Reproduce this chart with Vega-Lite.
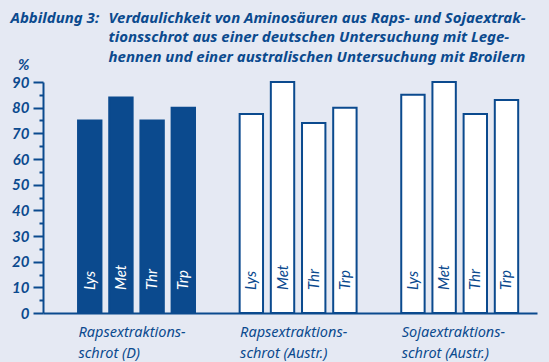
{
  "$schema": "https://vega.github.io/schema/vega-lite/v6.json",
  "width": 494,
  "height": 231,
  "autosize": {"type": "none"},
  "padding": {"left": 43, "top": 82, "right": 12, "bottom": 49},
  "background": "#e5e9f3",
  "config": {"view": {"stroke": null}, "font": "Noto Sans"},
  "data": {
    "values": [
      {"Futtermittel": "Rapsextraktions-\nschrot (D)", "Aminosäure": "Lys", "Verdaulichkeit": 75},
      {"Futtermittel": "Rapsextraktions-\nschrot (D)", "Aminosäure": "Met", "Verdaulichkeit": 84},
      {"Futtermittel": "Rapsextraktions-\nschrot (D)", "Aminosäure": "Thr", "Verdaulichkeit": 75},
      {"Futtermittel": "Rapsextraktions-\nschrot (D)", "Aminosäure": "Trp", "Verdaulichkeit": 80},
      {"Futtermittel": "Rapsextraktions-\nschrot (Austr.)", "Aminosäure": "Lys", "Verdaulichkeit": 77.5},
      {"Futtermittel": "Rapsextraktions-\nschrot (Austr.)", "Aminosäure": "Met", "Verdaulichkeit": 90},
      {"Futtermittel": "Rapsextraktions-\nschrot (Austr.)", "Aminosäure": "Thr", "Verdaulichkeit": 74},
      {"Futtermittel": "Rapsextraktions-\nschrot (Austr.)", "Aminosäure": "Trp", "Verdaulichkeit": 80},
      {"Futtermittel": "Sojaextraktions-\nschrot (Austr.)", "Aminosäure": "Lys", "Verdaulichkeit": 85},
      {"Futtermittel": "Sojaextraktions-\nschrot (Austr.)", "Aminosäure": "Met", "Verdaulichkeit": 90},
      {"Futtermittel": "Sojaextraktions-\nschrot (Austr.)", "Aminosäure": "Thr", "Verdaulichkeit": 77.5},
      {"Futtermittel": "Sojaextraktions-\nschrot (Austr.)", "Aminosäure": "Trp", "Verdaulichkeit": 83}
    ]
  },
  "layer": [
    {
      "mark": {"type": "bar", "stroke": "#0b4a8e", "strokeWidth": 2},
      "encoding": {
        "x": {
          "field": "Futtermittel", "type": "nominal", "sort": null,
          "scale": {"paddingInner": 0.257, "paddingOuter": 0.157, "align": 0.66},
          "axis": {
            "orient": "bottom", "title": null, "domainColor": "#0b4a8e", "domainWidth": 2,
            "ticks": false, "tickSize": 0, "labelAngle": 0, "labelAlign": "left", "labelBaseline": "alphabetic",
            "labelOffset": -58, "labelPadding": 23, "labelExpr": "split(datum.label, '\\n')",
            "labelFont": "Noto Sans", "labelFontStyle": "italic", "labelFontSize": 14.5, "labelLineHeight": 21,
            "labelColor": "#0b4a8e", "labelOverlap": false, "labelLimit": 300
          }
        },
        "xOffset": {"field": "Aminosäure", "type": "nominal", "sort": null, "scale": {"paddingInner": 0.25, "paddingOuter": 0.05}},
        "y": {
          "field": "Verdaulichkeit", "type": "quantitative",
          "scale": {"domain": [0, 90], "nice": false},
          "axis": {
            "orient": "left", "grid": false,
            "values": [0, 5, 10, 15, 20, 25, 30, 35, 40, 45, 50, 55, 60, 65, 70, 75, 80, 85, 90],
            "domainColor": "#0b4a8e", "domainWidth": 2, "tickColor": "#0b4a8e", "tickWidth": 2,
            "tickSize": {"condition": {"test": "datum.value % 10 === 0", "value": 10}, "value": 4},
            "labelExpr": "datum.value % 10 === 0 ? datum.label : ''",
            "labelFont": "Lato", "labelFontStyle": "italic", "labelFontWeight": "bold", "labelFontSize": 15,
            "labelColor": "#0b4a8e", "labelPadding": 4, "labelOverlap": false,
            "title": "%", "titleAngle": 0, "titleX": -14, "titleY": -13, "titleAlign": "right",
            "titleBaseline": "alphabetic", "titleFont": "Lato", "titleFontStyle": "italic",
            "titleFontWeight": "bold", "titleFontSize": 15, "titleColor": "#0b4a8e"
          }
        },
        "fill": {"condition": {"test": "indexof(datum.Futtermittel, '(D)') >= 0", "value": "#0b4a8e"}, "value": "#ffffff"}
      }
    },
    {
      "mark": {"type": "text", "angle": 270, "align": "left", "baseline": "middle", "dx": 23, "font": "Lato", "fontStyle": "italic", "fontSize": 15},
      "encoding": {
        "x": {
          "field": "Futtermittel", "type": "nominal", "sort": null,
          "axis": {
            "orient": "top", "domain": false, "ticks": false, "labels": false,
            "title": ["Verdaulichkeit von Aminosäuren aus Raps- und Sojaextrak-", "tionsschrot aus einer deutschen Untersuchung mit Lege-", "hennen und einer australischen Untersuchung mit Broilern"],
            "titleX": 65, "titleY": -60, "titleAlign": "left", "titleBaseline": "alphabetic",
            "titleFont": "Noto Sans", "titleFontStyle": "italic", "titleFontWeight": "bold", "titleFontSize": 15,
            "titleLineHeight": 19.5, "titleColor": "#0b4a8e", "titleLimit": 600
          }
        },
        "xOffset": {"field": "Aminosäure", "type": "nominal", "sort": null},
        "y": {
          "datum": 0, "type": "quantitative",
          "axis": {
            "orient": "right", "domain": false, "ticks": false, "labels": false, "grid": false,
            "title": "Abbildung 3:", "titleAngle": 0, "titleX": -527, "titleY": -60, "titleAlign": "left",
            "titleBaseline": "alphabetic", "titleFont": "Noto Sans", "titleFontStyle": "italic",
            "titleFontWeight": "bold", "titleFontSize": 15, "titleColor": "#0b4a8e"
          }
        },
        "text": {"field": "Aminosäure"},
        "color": {"condition": {"test": "indexof(datum.Futtermittel, '(D)') >= 0", "value": "#ffffff"}, "value": "#0b4a8e"}
      }
    }
  ],
  "resolve": {"axis": {"x": "independent", "y": "independent"}}
}
